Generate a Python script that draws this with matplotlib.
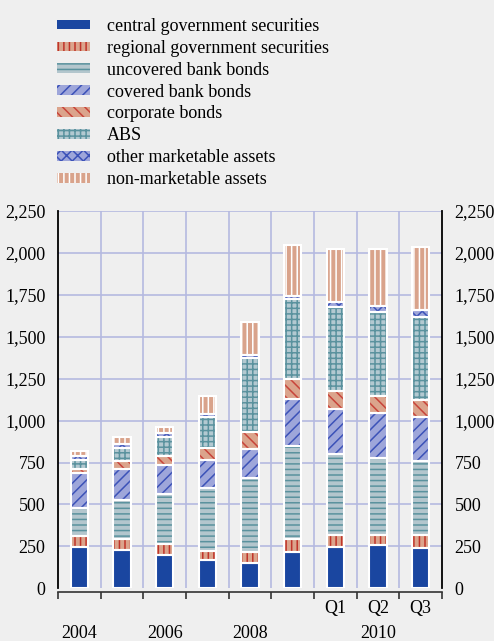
import numpy as np
import matplotlib
matplotlib.use("Agg")
import matplotlib.pyplot as plt
from matplotlib.patches import Patch
from matplotlib.transforms import blended_transform_factory

plt.rcParams['font.family'] = ['Liberation Serif', 'DejaVu Serif']
plt.rcParams['hatch.linewidth'] = 1.1

periods = ["2004", "2005", "2006", "2007", "2008", "2009", "Q1", "Q2", "Q3"]
series_names = ["central government securities", "regional government securities",
                "uncovered bank bonds", "covered bank bonds", "corporate bonds",
                "ABS", "other marketable assets", "non-marketable assets"]

central_gov = [245, 230, 198, 168, 152, 216, 246, 256, 238]
regional_gov = [65, 64, 64, 52, 62, 78, 70, 62, 80]
uncovered_bonds = [170, 230, 302, 380, 444, 556, 484, 462, 440]
covered_bonds = [210, 190, 170, 164, 172, 280, 270, 266, 262]
corporate_bonds = [24, 46, 56, 70, 104, 118, 106, 100, 102]
abs_assets = [50, 78, 114, 186, 440, 478, 502, 500, 494]
other_marketable = [22, 24, 22, 18, 16, 20, 30, 38, 42]
non_marketable = [30, 40, 36, 110, 196, 300, 316, 342, 376]

year_labels = {0: "2004", 2: "2006", 4: "2008", 7: "2010"}
quarter_labels = {6: "Q1", 7: "Q2", 8: "Q3"}

series = [central_gov, regional_gov, uncovered_bonds, covered_bonds,
          corporate_bonds, abs_assets, other_marketable, non_marketable]
faces = ["#1a46a0", "#dba48c", "#b3c6cd", "#9ea6da", "#dba48c", "#b3c9d1", "#9ea6da", "#d9a38b"]
hatch_colors = ["#1a46a0", "#c0342a", "#5a929e", "#3c52b8", "#c8443a", "#5a929e", "#3c52b8", "#ffffff"]
hatches = [None, "|||", "---", "///", "\\\\\\", "+++", "xxx", "|||"]

bg = "#efefef"
fig = plt.figure(figsize=(4.94, 6.41), dpi=100, facecolor=bg)
ax = fig.add_axes([58 / 494, 1 - 588.3 / 641, 384 / 494, 377.3 / 641])
ax.set_facecolor(bg)

x = np.arange(len(periods))
width = 0.4
bottom = np.zeros(len(periods))
for vals, fc, hc, h in zip(series, faces, hatch_colors, hatches):
    vals = np.array(vals, dtype=float)
    ax.bar(x, vals, width, bottom=bottom, color=fc, edgecolor=hc, hatch=h,
           linewidth=0, zorder=3)
    ax.bar(x, vals, width, bottom=bottom, fill=False, edgecolor="white",
           linewidth=1.5, zorder=4)
    bottom += vals

ax.set_xlim(-0.5, len(periods) - 0.5)
ax.set_ylim(0, 2250)
yt = np.arange(0, 2251, 250)
ax.set_yticks(yt)
ax.set_yticklabels([f"{v:,}" for v in yt])
ax.tick_params(axis='y', length=0, pad=9, labelsize=13, labelright=True, right=False)

# category boundary ticks
bounds = np.arange(-0.5, len(periods) - 0.4, 1.0)
ax.set_xticks(bounds)
ax.set_xticklabels([])
ax.tick_params(axis='x', direction='out', length=5, width=1.2, color="#333333")

for b in bounds[1:-1]:
    ax.axvline(b, color="#b5b9e0", lw=1.2, zorder=1)
for v in yt[1:]:
    ax.axhline(v, color="#b5b9e0", lw=1.2, zorder=1)

ax.spines["top"].set_visible(False)
ax.spines["left"].set_linewidth(1.3)
ax.spines["right"].set_linewidth(1.3)
ax.spines["bottom"].set_position(("outward", 3))
ax.spines["bottom"].set_color("#333333")
ax.spines["bottom"].set_linewidth(1.2)

tr = blended_transform_factory(ax.transData, fig.transFigure)
for i, lab in quarter_labels.items():
    ax.text(i, 1 - 609 / 641, lab, transform=tr, ha="center", va="center", fontsize=13)
for i, lab in year_labels.items():
    ax.text(i, 1 - 633 / 641, lab, transform=tr, ha="center", va="center", fontsize=13)

handles = [Patch(facecolor=fc, edgecolor=hc, hatch=h, linewidth=0)
           for fc, hc, h in zip(faces, hatch_colors, hatches)]
fig.legend(handles, series_names, loc="upper left", bbox_to_anchor=(57 / 494, 1 - 18 / 641),
           frameon=False, fontsize=13, handlelength=1.85, handleheight=0.45,
           handletextpad=0.9, labelspacing=0.27, borderaxespad=0, borderpad=0)

fig.savefig("out.png", dpi=100, facecolor=bg)
